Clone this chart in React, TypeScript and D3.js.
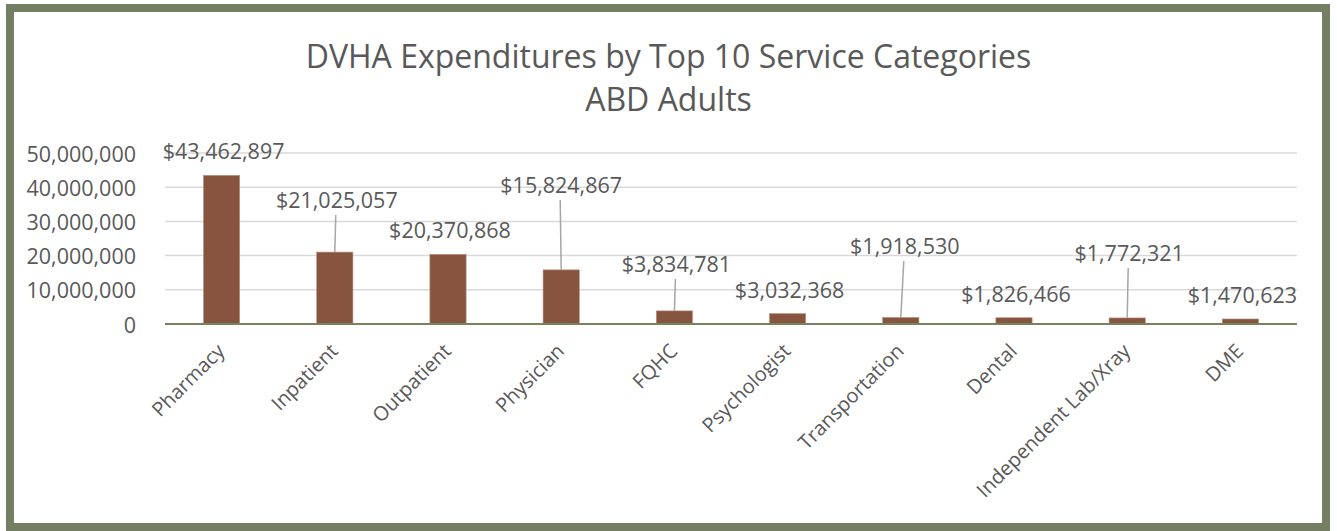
import React, { useEffect, useRef } from "react";
import * as d3 from "d3";

const TITLE_LINES = ["DVHA Expenditures by Top 10 Service Categories", "ABD Adults"];
const CATEGORIES = [
  "Pharmacy",
  "Inpatient",
  "Outpatient",
  "Physician",
  "FQHC",
  "Psychologist",
  "Transportation",
  "Dental",
  "Independent Lab/Xray",
  "DME",
];
const VALUES = [43462897, 21025057, 20370868, 15824867, 3834781, 3032368, 1918530, 1826466, 1772321, 1470623];
const Y_TICKS = [0, 10000000, 20000000, 30000000, 40000000, 50000000];

// layout: data label centre (pixel offsets from band centre, absolute y) and leader flags
const LABEL_LAYOUT = [
  { dx: 2, y: 150, leader: false },
  { dx: 2, y: 199, leader: true },
  { dx: 2, y: 229, leader: false },
  { dx: 0, y: 184, leader: true },
  { dx: 2, y: 263, leader: true },
  { dx: 2, y: 289, leader: false },
  { dx: 4, y: 245, leader: true },
  { dx: 2, y: 293, leader: false },
  { dx: 2, y: 252, leader: true },
  { dx: 2, y: 294, leader: false },
];

const W = 1337;
const H = 531;
const FONT = "'Open Sans', sans-serif";
const TEXT = "#595959";

export default function App() {
  const ref = useRef<SVGSVGElement | null>(null);

  useEffect(() => {
    const svg = d3.select(ref.current);
    svg.selectAll("*").remove();

    svg.append("rect").attr("x", 0).attr("y", 0).attr("width", W).attr("height", H).attr("fill", "#fff");
    svg
      .append("rect")
      .attr("x", 10)
      .attr("y", 8)
      .attr("width", 1316)
      .attr("height", 519)
      .attr("fill", "#fff")
      .attr("stroke", "#737E62")
      .attr("stroke-width", 8);

    const left = 165;
    const right = 1297;
    const x = d3.scaleBand<string>().domain(CATEGORIES).range([left, right]).paddingInner(0.68).paddingOuter(0.34);
    const y = d3.scaleLinear().domain([0, 50000000]).range([324, 153]);

    // title
    svg
      .append("g")
      .selectAll("text")
      .data(TITLE_LINES)
      .join("text")
      .attr("x", 668.5)
      .attr("y", (_d, i) => 55 + i * 43)
      .attr("text-anchor", "middle")
      .attr("dominant-baseline", "central")
      .attr("font-family", FONT)
      .attr("font-size", 32)
      .attr("fill", TEXT)
      .text((d) => d);

    // gridlines
    svg
      .append("g")
      .selectAll("line")
      .data(Y_TICKS.filter((t) => t > 0))
      .join("line")
      .attr("x1", left)
      .attr("x2", right)
      .attr("y1", (d) => y(d))
      .attr("y2", (d) => y(d))
      .attr("stroke", "#D9D9D9")
      .attr("stroke-width", 1.5);

    // y tick labels
    const fmt = d3.format(",");
    svg
      .append("g")
      .selectAll("text")
      .data(Y_TICKS)
      .join("text")
      .attr("x", 136)
      .attr("y", (d) => y(d))
      .attr("text-anchor", "end")
      .attr("dominant-baseline", "central")
      .attr("font-family", FONT)
      .attr("font-size", 21.5)
      .attr("fill", TEXT)
      .text((d) => fmt(d));

    // bars
    svg
      .append("g")
      .selectAll("rect")
      .data(VALUES)
      .join("rect")
      .attr("x", (_d, i) => x(CATEGORIES[i]) as number)
      .attr("width", x.bandwidth())
      .attr("y", (d) => y(d))
      .attr("height", (d) => y(0) - y(d))
      .attr("fill", "#87553F")
      .attr("stroke", "#B98F80")
      .attr("stroke-width", 0.6);

    // baseline
    svg
      .append("line")
      .attr("x1", left)
      .attr("x2", right)
      .attr("y1", y(0))
      .attr("y2", y(0))
      .attr("stroke", "#76845E")
      .attr("stroke-width", 2);

    // leader lines
    const cx = (i: number) => (x(CATEGORIES[i]) as number) + x.bandwidth() / 2;
    svg
      .append("g")
      .selectAll("line")
      .data(VALUES.map((v, i) => ({ v, i, l: LABEL_LAYOUT[i] })).filter((d) => d.l.leader))
      .join("line")
      .attr("x1", (d) => cx(d.i) + d.l.dx - 1)
      .attr("y1", (d) => d.l.y + 16)
      .attr("x2", (d) => cx(d.i))
      .attr("y2", (d) => y(d.v))
      .attr("stroke", "#A6A6A6")
      .attr("stroke-width", 1.5);

    // data labels
    const money = (v: number) => "$" + fmt(v);
    svg
      .append("g")
      .selectAll("text")
      .data(VALUES)
      .join("text")
      .attr("x", (_d, i) => cx(i) + LABEL_LAYOUT[i].dx)
      .attr("y", (_d, i) => LABEL_LAYOUT[i].y)
      .attr("text-anchor", "middle")
      .attr("dominant-baseline", "central")
      .attr("font-family", FONT)
      .attr("font-size", 21.5)
      .attr("fill", TEXT)
      .text((d) => money(d));

    // category labels
    svg
      .append("g")
      .selectAll("text")
      .data(CATEGORIES)
      .join("text")
      .attr("transform", (_d, i) => `translate(${cx(i) - 1},${347}) rotate(-45)`)
      .attr("text-anchor", "end")
      .attr("dominant-baseline", "central")
      .attr("font-family", FONT)
      .attr("font-size", 20)
      .attr("fill", TEXT)
      .text((d) => d);
  }, []);

  return (
    <svg
      ref={ref}
      width={W}
      height={H}
      style={{ position: "absolute", left: 0, top: 0, display: "block" }}
    />
  );
}
